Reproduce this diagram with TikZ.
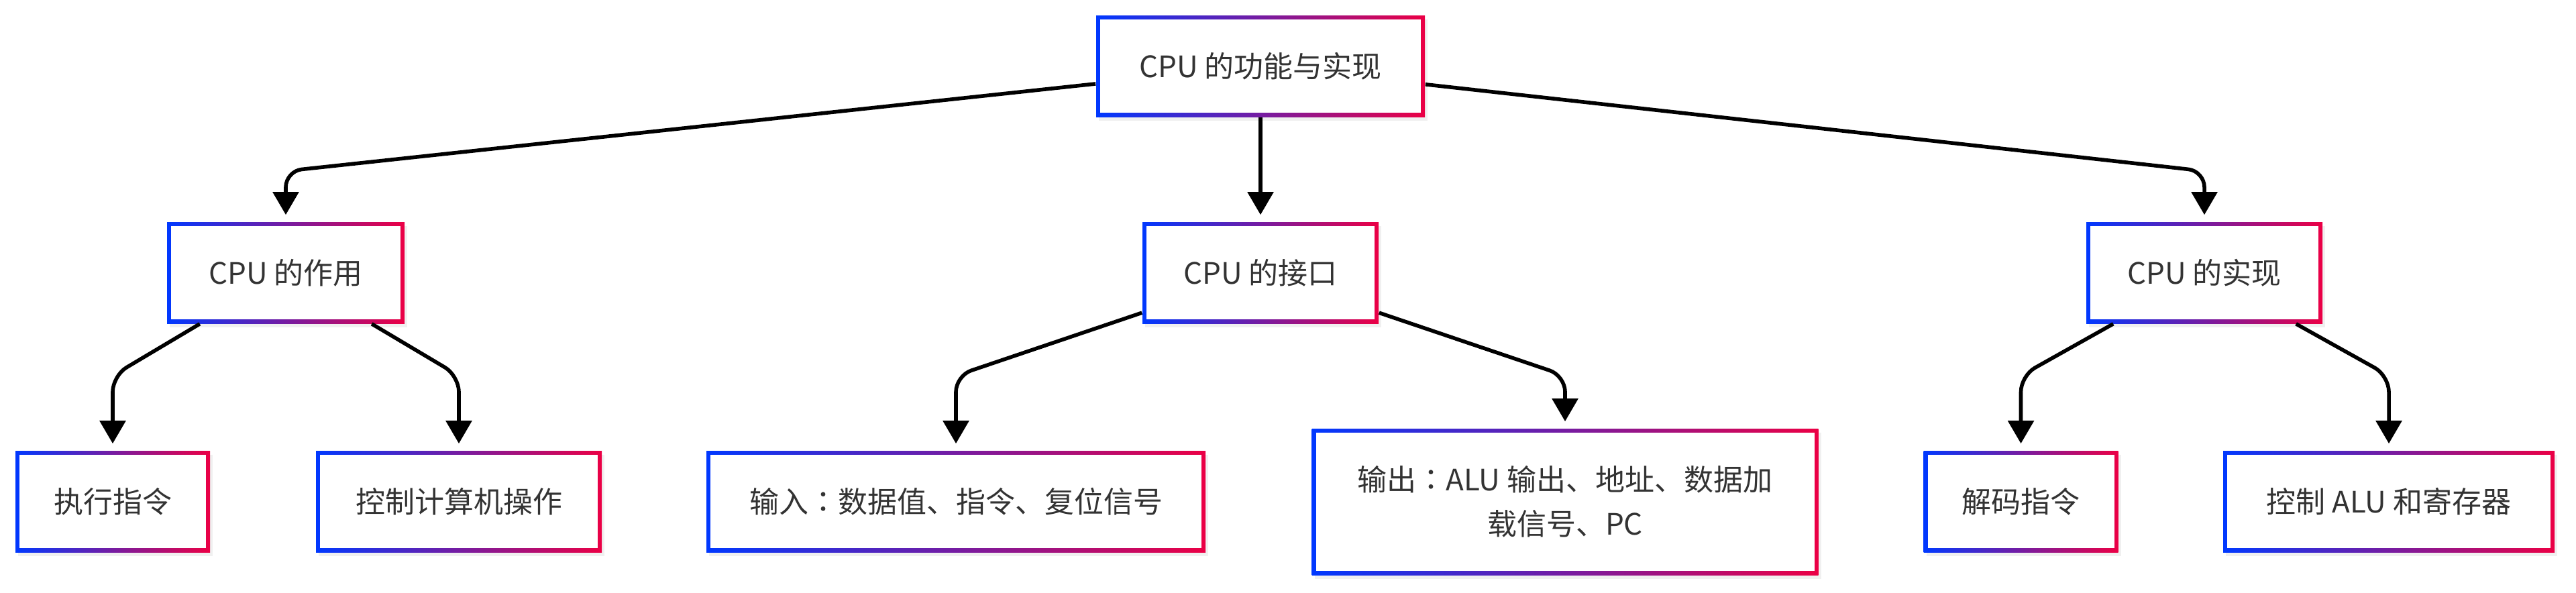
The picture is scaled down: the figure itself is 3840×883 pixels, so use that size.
\documentclass[tikz,border=0pt]{standalone}
\usepackage{fontspec}
\setmainfont{Noto Sans CJK SC}
\newfontfamily\jpfont{Noto Sans CJK JP}
\newcommand{\midcolon}{{\jpfont ：}}
\usetikzlibrary{arrows.meta,shadows}
\definecolor{gradblue}{HTML}{0038FF}
\definecolor{gradred}{HTML}{EB0045}
\definecolor{labelgray}{HTML}{333333}

\tikzset{
  topic/.style={left color=gradblue, right color=gradred, minimum height=37.75pt,
    inner sep=0pt, text=labelgray, align=center, font=\fontsize{11}{16.5}\selectfont,
    drop shadow={shadow xshift=1pt, shadow yshift=-1.5pt, opacity=0.12},
    path picture={\fill[white] ([shift={(1.5pt,-1.5pt)}]path picture bounding box.north west)
      rectangle ([shift={(-1.5pt,1.5pt)}]path picture bounding box.south east);}},
  link/.style={-{Triangle[width=9.5pt,length=8.5pt]}, line width=1.4pt, rounded corners=6pt, shorten >=2.5pt}
}

\begin{document}
\begin{tikzpicture}[x=0.25pt, y=-0.25pt]
  \useasboundingbox (0,0) rectangle (3840,883);
  % bend heights of the connectors
  \coordinate (bendA) at (0,255);
  \coordinate (bendB) at (0,560);

  \node[topic, minimum width=122.5pt] (root) at (1879,98.5) {CPU 的功能与实现};

  \node[topic, minimum width=88.5pt] (role) at (426,406.5) {CPU 的作用};
  \node[topic, minimum width=88pt] (iface) at (1879,406.5) {CPU 的接口};
  \node[topic, minimum width=88pt] (impl) at (3286,406.5) {CPU 的实现};

  \node[topic, minimum width=72.5pt] (exec) at (168,747.5) {执行指令};
  \node[topic, minimum width=106.5pt] (ctrl) at (684,747.5) {控制计算机操作};
  \node[topic, minimum width=186pt] (input) at (1425,747.5) {输入\midcolon 数据值、指令、复位信号};
  \node[topic, minimum width=188.75pt, minimum height=54.5pt] (output) at (2333,748)
    {输出\midcolon ALU 输出、地址、数据加\\载信号、PC};
  \node[topic, minimum width=72.5pt] (decode) at (3012.5,747.5) {解码指令};
  \node[topic, minimum width=123.5pt] (ctrlalu) at (3561,747.5) {控制 ALU 和寄存器};

  \draw[link] (root) -- (role.north |- bendA) -- (role.north);
  \draw[link] (root) -- (iface);
  \draw[link] (root) -- (impl.north |- bendA) -- (impl.north);

  \draw[link] (role) -- (exec.north |- bendB) -- (exec.north);
  \draw[link] (role) -- (ctrl.north |- bendB) -- (ctrl.north);
  \draw[link] (iface) -- (input.north |- bendB) -- (input.north);
  \draw[link] (iface) -- (output.north |- bendB) -- (output.north);
  \draw[link] (impl) -- (decode.north |- bendB) -- (decode.north);
  \draw[link] (impl) -- (ctrlalu.north |- bendB) -- (ctrlalu.north);
\end{tikzpicture}
\end{document}
